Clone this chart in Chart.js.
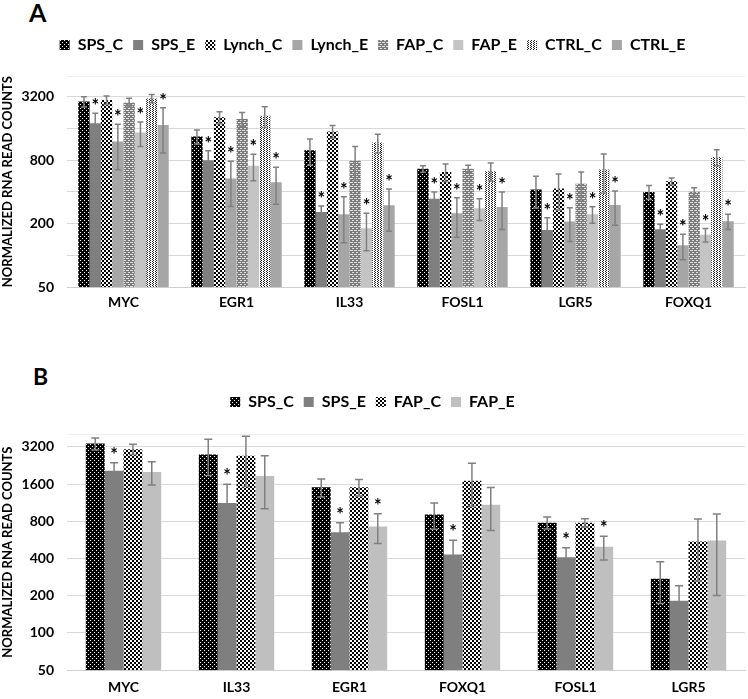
<!DOCTYPE html>
<html>
<head>
<meta charset="utf-8">
<script src="https://cdn.jsdelivr.net/npm/chart.js@4"></script>
<style>
  body { margin: 0; background: #fff; width: 748px; height: 699px; position: relative; overflow: hidden; font-family: Lato, sans-serif; }
  .panel { position: absolute; left: 0; }
  .tag { position: absolute; font-family: Lato, sans-serif; font-weight: bold; color: #000; }
</style>
</head>
<body>
<div class="tag" style="left:29px; top:-3px; font-size:25px;">A</div>
<canvas class="panel" id="chartA" width="748" height="322" style="top:0"></canvas>
<div class="tag" style="left:33px; top:362px; font-size:23px;">B</div>
<canvas class="panel" id="chartB" width="748" height="375" style="top:330px"></canvas>
<script>
// panel A
const genesA = ['MYC', 'EGR1', 'IL33', 'FOSL1', 'LGR5', 'FOXQ1'];
const SPS_C_A = [2880, 1345, 993, 663, 423, 400];
const SPS_C_A_err = [320, 205, 277, 48, 141, 60];
const SPS_E_A = [1800, 800, 258, 345, 174, 177];
const SPS_E_A_err = [430, 185, 36, 55, 54, 21];
const Lynch_C_A = [2980, 2045, 1500, 620, 432, 506];
const Lynch_C_A_err = [270, 265, 205, 118, 162, 38];
const Lynch_E_A = [1205, 537, 246, 251, 210, 125];
const Lynch_E_A_err = [555, 246, 114, 102, 74, 34];
const FAP_C_A = [2830, 1975, 793, 663, 478, 402];
const FAP_C_A_err = [270, 290, 287, 53, 142, 36];
const FAP_E_A = [1465, 711, 181, 280, 246, 157];
const FAP_E_A_err = [385, 200, 70, 65, 44, 23];
const CTRL_C_A = [3090, 2110, 1180, 630, 653, 858];
const CTRL_C_A_err = [280, 470, 235, 123, 264, 148];
const CTRL_E_A = [1730, 496, 299, 288, 301, 211];
const CTRL_E_A_err = [790, 190, 129, 112, 107, 35];
const starsA_E = [1, 1, 1, 1, 1, 1];   // every "_E" bar in A carries a *

// panel B
const genesB = ['MYC', 'IL33', 'EGR1', 'FOXQ1', 'FOSL1', 'LGR5'];
const SPS_C_B = [3400, 2780, 1510, 906, 780, 275];
const SPS_C_B_err = [380, 900, 250, 217, 87, 102];
const SPS_E_B = [2055, 1123, 653, 432, 409, 182];
const SPS_E_B_err = [325, 472, 124, 131, 80, 59];
const FAP_C_B = [3065, 2710, 1510, 1705, 780, 549];
const FAP_C_B_err = [295, 1180, 230, 650, 60, 286];
const FAP_E_B = [2000, 1860, 725, 1087, 498, 559];
const FAP_E_B_err = [425, 850, 195, 413, 108, 358];
const starsB_SPS_E = [1, 1, 1, 1, 1, 0];
const starsB_FAP_E = [0, 0, 1, 0, 1, 0];

// axes
const yTicks = [50, 100, 200, 400, 800, 1600, 3200];
const yLabelsA = [50, 200, 800, 3200];
const yLabelsB = [50, 100, 200, 400, 800, 1600, 3200];
const yTitle = 'NORMALIZED RNA READ COUNTS';

// little tiles for the hatched fills
function pattern(canvasId, w, h, bg, fg, pts) {
  const t = document.createElement('canvas');
  t.width = w; t.height = h;
  const g = t.getContext('2d');
  g.fillStyle = bg; g.fillRect(0, 0, w, h);
  g.fillStyle = fg;
  pts.forEach(p => g.fillRect(p[0], p[1], p[2] || 1, p[3] || 1));
  return document.getElementById(canvasId).getContext('2d').createPattern(t, 'repeat');
}
function dotsBlack(id) { return pattern(id, 4, 4, '#000', '#fff', [[0, 0], [2, 2]]); }
function checkBlack(id) { return pattern(id, 4, 4, '#000', '#fff', [[0, 0, 2, 2], [2, 2, 2, 2]]); }
function plaidGrey(id) { return pattern(id, 4, 4, '#7a7a7a', '#e0e0e0', [[0, 0, 2, 1], [0, 2, 1, 1], [2, 2, 2, 1]]); }
function stripesLight(id) { return pattern(id, 3, 2, '#fff', '#222', [[0, 0], [2, 1]]); }

const errorBars = {
  id: 'errorBars',
  afterDatasetsDraw(chart, args, opts) {
    const ctx = chart.ctx;
    const y = chart.scales.y;
    const area = chart.chartArea;
    chart.data.datasets.forEach((ds, i) => {
      const meta = chart.getDatasetMeta(i);
      meta.data.forEach((bar, j) => {
        const v = ds.data[j], e = ds.err[j];
        const top = y.getPixelForValue(v + e);
        const bot = Math.min(y.getPixelForValue(Math.max(v - e, 1)), area.bottom);
        ctx.save();
        ctx.strokeStyle = '#808080';
        ctx.lineWidth = 1.5;
        ctx.beginPath();
        ctx.moveTo(bar.x, top); ctx.lineTo(bar.x, bot);
        ctx.moveTo(bar.x - opts.cap, top); ctx.lineTo(bar.x + opts.cap, top);
        if (bot < area.bottom) { ctx.moveTo(bar.x - opts.cap, bot); ctx.lineTo(bar.x + opts.cap, bot); }
        ctx.stroke();
        if (ds.stars && ds.stars[j]) {
          ctx.fillStyle = '#000';
          ctx.font = 'bold 18px Lato';
          ctx.textAlign = 'center';
          ctx.textBaseline = 'alphabetic';
          ctx.fillText('*', bar.x, top - opts.starGap);
        }
        ctx.restore();
      });
    });
  }
};

// fixes the legend block height so the plot starts where it should
const legendHeight = {
  id: 'legendHeight',
  beforeInit(chart, args, opts) {
    const fit = chart.legend.fit;
    chart.legend.fit = function () { fit.call(this); this.height = opts.h; };
  }
};

function makeChart(id, labels, datasets, opt) {
  const font = { family: 'Lato', weight: 'bold', size: 14 };
  return new Chart(document.getElementById(id), {
    type: 'bar',
    data: { labels: labels, datasets: datasets },
    options: {
      responsive: false,
      animation: false,
      layout: { padding: { top: opt.padTop, right: 3, bottom: opt.padBottom, left: 0 } },
      datasets: { bar: { categoryPercentage: opt.catPct, barPercentage: 1.0, borderWidth: 0 } },
      plugins: {
        legend: {
          position: 'top',
          labels: { boxWidth: 10, boxHeight: 10, padding: 10, color: '#000', font: { family: 'Lato', weight: 'bold', size: 16 } }
        },
        tooltip: { enabled: false },
        errorBars: { cap: opt.cap, starGap: opt.starGap },
        legendHeight: { h: opt.legendH }
      },
      scales: {
        x: {
          grid: { display: false, drawTicks: false },
          border: { color: '#d0d0d0' },
          ticks: { color: '#000', font: font, padding: opt.xPad }
        },
        y: {
          type: 'logarithmic',
          min: 50,
          max: opt.max,
          border: { display: false },
          grid: { drawTicks: false, color: c => (c.tick && c.tick.value === opt.max) ? '#eeeeee' : '#d9d9d9' },
          afterBuildTicks: s => { s.ticks = yTicks.concat([opt.max]).map(v => ({ value: v })); },
          afterFit: s => { s.width = 67; },
          ticks: { padding: 13, color: '#000', font: font, autoSkip: false,
                   callback: v => opt.labels.includes(v) ? String(v) : '' },
          title: { display: true, text: yTitle, color: '#000', padding: 0,
                   font: { family: 'Lato', weight: 'bold', size: 13 } }
        }
      }
    },
    plugins: [errorBars, legendHeight]
  });
}

makeChart('chartA', genesA, [
  { label: 'SPS_C', data: SPS_C_A, err: SPS_C_A_err, backgroundColor: dotsBlack('chartA') },
  { label: 'SPS_E', data: SPS_E_A, err: SPS_E_A_err, stars: starsA_E, backgroundColor: '#7f7f7f' },
  { label: 'Lynch_C', data: Lynch_C_A, err: Lynch_C_A_err, backgroundColor: checkBlack('chartA') },
  { label: 'Lynch_E', data: Lynch_E_A, err: Lynch_E_A_err, stars: starsA_E, backgroundColor: '#a6a6a6' },
  { label: 'FAP_C', data: FAP_C_A, err: FAP_C_A_err, backgroundColor: plaidGrey('chartA') },
  { label: 'FAP_E', data: FAP_E_A, err: FAP_E_A_err, stars: starsA_E, backgroundColor: '#c4c4c4' },
  { label: 'CTRL_C', data: CTRL_C_A, err: CTRL_C_A_err, backgroundColor: stripesLight('chartA') },
  { label: 'CTRL_E', data: CTRL_E_A, err: CTRL_E_A_err, stars: starsA_E, backgroundColor: '#a6a6a6' }
], { padTop: 27, padBottom: 4, legendH: 49, catPct: 0.8, max: 5040, labels: yLabelsA, cap: 3, starGap: 1, xPad: 7 });

makeChart('chartB', genesB, [
  { label: 'SPS_C', data: SPS_C_B, err: SPS_C_B_err, backgroundColor: dotsBlack('chartB') },
  { label: 'SPS_E', data: SPS_E_B, err: SPS_E_B_err, stars: starsB_SPS_E, backgroundColor: '#7f7f7f' },
  { label: 'FAP_C', data: FAP_C_B, err: FAP_C_B_err, backgroundColor: checkBlack('chartB') },
  { label: 'FAP_E', data: FAP_E_B, err: FAP_E_B_err, stars: starsB_FAP_E, backgroundColor: '#bfbfbf' }
], { padTop: 54, padBottom: 0, legendH: 50, catPct: 0.667, max: 4065, labels: yLabelsB, cap: 4, starGap: 2, xPad: 9 });
</script>
</body>
</html>
